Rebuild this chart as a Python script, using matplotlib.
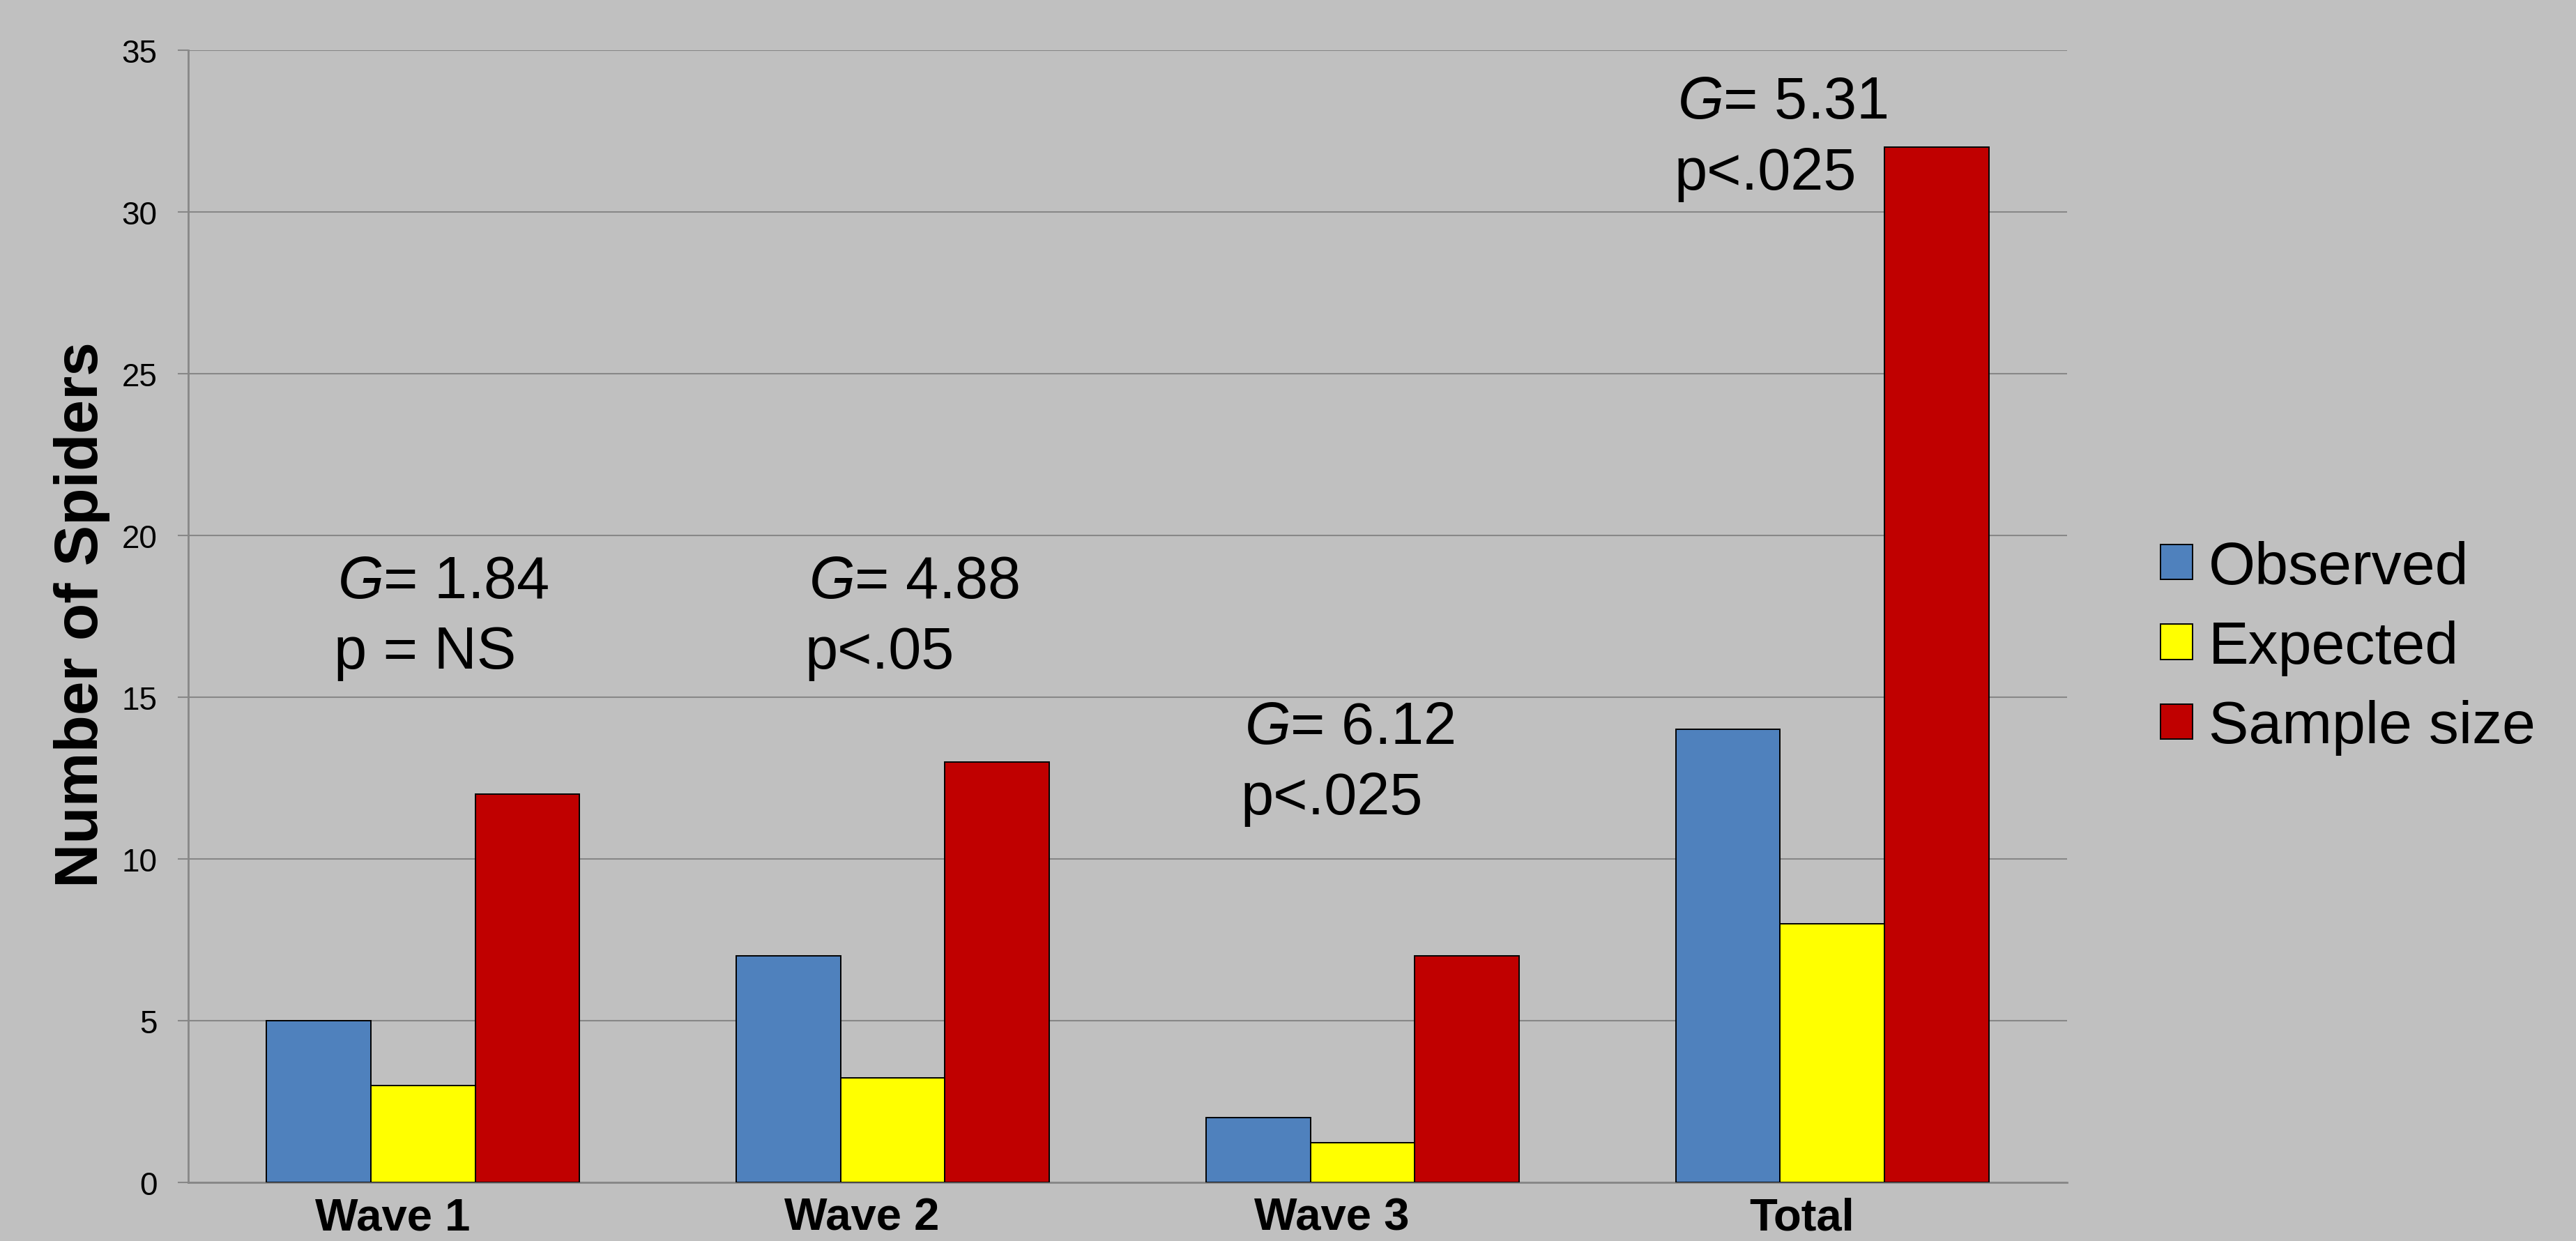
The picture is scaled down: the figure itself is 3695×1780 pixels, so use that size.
import numpy as np
import matplotlib
matplotlib.use("Agg")
import matplotlib.pyplot as plt
import matplotlib.transforms as mtransforms

plt.rcParams['font.family'] = ['Liberation Sans', 'DejaVu Sans']
plt.rcParams['mathtext.fontset'] = 'custom'
plt.rcParams['mathtext.it'] = 'Liberation Sans:italic'
plt.rcParams['mathtext.rm'] = 'Liberation Sans'

# data
categories = ['Wave 1', 'Wave 2', 'Wave 3', 'Total']
observed = [5, 7, 2, 14]
expected = [3, 3.24, 1.23, 8]
sample_size = [12, 13, 7, 32]
series_names = ['Observed', 'Expected', 'Sample size']
g_values = ['1.84', '4.88', '6.12', '5.31']
p_labels = ['p = NS', 'p<.05', 'p<.025', 'p<.025']

# annotation placement (x in data units, baselines of the two lines)
ann_x = [-0.19, 0.813, 1.740, 2.663]
ann_y_g = [18.08, 18.08, 13.58, 32.91]
ann_y_p = [15.90, 15.90, 11.40, 30.71]

colors = ['#4F81BD', '#FFFF00', '#C00000']
bg = '#C0C0C0'
grid_col = '#878787'

fig = plt.figure(figsize=(36.95, 17.81), dpi=100, facecolor=bg)
ax = fig.add_axes([270 / 3695, 1 - 1697 / 1781, 2695 / 3695, 1624 / 1781])
ax.set_facecolor(bg)

x = np.arange(len(categories))
width = 0.2222
for i, (vals, col) in enumerate(zip([observed, expected, sample_size], colors)):
    ax.bar(x + (i - 1) * width, vals, width, color=col, edgecolor='black',
           linewidth=1.4, label=series_names[i], zorder=3)

ax.set_xlim(-0.5, 3.5)
ax.set_ylim(0, 35)
ax.set_yticks(np.arange(0, 36, 5))
ax.yaxis.grid(True, color=grid_col, linewidth=1.5, zorder=0)
ax.set_axisbelow(True)

for side in ['top', 'right']:
    ax.spines[side].set_visible(False)
ax.spines['left'].set_color(grid_col)
ax.spines['left'].set_linewidth(2)
ax.spines['bottom'].set_color(grid_col)
ax.spines['bottom'].set_linewidth(2)

ax.tick_params(axis='y', length=11, width=1.5, color=grid_col, pad=21, labelsize=33)
ax.tick_params(axis='x', length=0, pad=15)
ax.set_xticks(x)
ax.set_xticklabels(categories, fontsize=47, fontweight='bold')
shift = mtransforms.ScaledTranslation(-0.44, 0, fig.dpi_scale_trans)
for lbl in ax.get_xticklabels():
    lbl.set_transform(lbl.get_transform() + shift)

fig.text(117 / 3695, 1 - 882 / 1781, 'Number of Spiders', rotation=90,
         ha='center', va='center', fontsize=63, fontweight='bold')

for xi, g, p, yg, yp in zip(ann_x, g_values, p_labels, ann_y_g, ann_y_p):
    ax.text(xi + 0.008, yg, r'$G$= ' + g, fontsize=61, va='baseline', ha='left')
    ax.text(xi, yp, p, fontsize=61, va='baseline', ha='left')

ax.legend(loc='center left', bbox_to_anchor=(3099 / 3695, 1 - 930 / 1781),
          bbox_transform=fig.transFigure, frameon=False, fontsize=62,
          handlelength=0.53, handleheight=0.52, handletextpad=0.27,
          labelspacing=0.40, borderpad=0, borderaxespad=0)

fig.savefig('out.png', dpi=100, facecolor=bg)
